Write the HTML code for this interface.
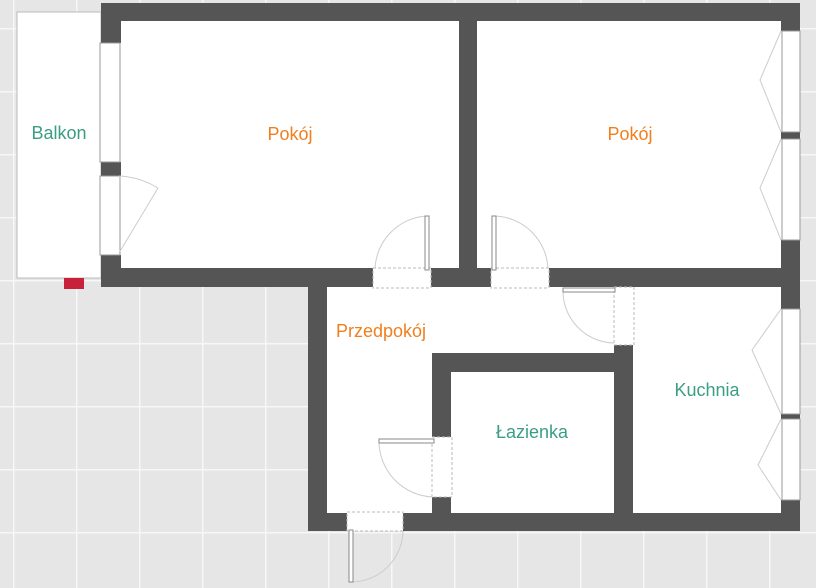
<!DOCTYPE html>
<html><head><meta charset="utf-8"><style>
html,body{margin:0;padding:0;width:816px;height:588px;overflow:hidden;background:#e6e6e6}
svg{display:block}
text{font-family:"Liberation Sans",sans-serif;font-size:18px;text-anchor:middle}
</style></head><body>
<svg width="816" height="588" viewBox="0 0 816 588">
<defs>
<pattern id="g" x="13" y="28" width="63" height="63" patternUnits="userSpaceOnUse">
<rect width="63" height="63" fill="#e6e6e6"/>
<path d="M0 0H63M0 0V63" stroke="#f7f7f7" stroke-width="3"/>
</pattern>
</defs>
<rect width="816" height="588" fill="url(#g)"/>
<rect x="17" y="12" width="84" height="266" fill="#fff" stroke="#bbb" stroke-width="1"/>
<rect x="64" y="278" width="20" height="11" fill="#c8223a"/>
<rect x="101" y="3" width="699" height="284" fill="#fff"/>
<rect x="308" y="287" width="492" height="244" fill="#fff"/>
<g fill="#555">
<rect x="101" y="3" width="699" height="18"/>
<rect x="101" y="3" width="20" height="40"/>
<rect x="101" y="162" width="20" height="14"/>
<rect x="101" y="255" width="20" height="32"/>
<rect x="459" y="3" width="18" height="284"/>
<rect x="781" y="3" width="19" height="28"/>
<rect x="781" y="132" width="19" height="7"/>
<rect x="781" y="240" width="19" height="69"/>
<rect x="781" y="414" width="19" height="5"/>
<rect x="781" y="500" width="19" height="31"/>
<rect x="101" y="268" width="272" height="19"/>
<rect x="431" y="268" width="60" height="19"/>
<rect x="549" y="268" width="251" height="19"/>
<rect x="308" y="287" width="19" height="244"/>
<rect x="308" y="513" width="39" height="18"/>
<rect x="403" y="513" width="397" height="18"/>
<rect x="432" y="353" width="201" height="19"/>
<rect x="432" y="353" width="19" height="84"/>
<rect x="432" y="497" width="19" height="34"/>
<rect x="614" y="345" width="19" height="186"/>
</g>
<g fill="#fff" stroke="#999" stroke-width="1">
<rect x="100" y="43" width="20" height="119"/>
<rect x="100" y="176" width="20" height="79"/>
<rect x="782" y="31" width="18" height="101"/>
<rect x="782" y="139" width="18" height="101"/>
<rect x="782" y="309" width="18" height="105"/>
<rect x="782" y="419" width="18" height="81"/>
</g>
<g fill="none" stroke="#ccc" stroke-width="1">
<path d="M119 176 A80 80 0 0 1 158 188 L119 253"/>
<path d="M781 31 L760 80 L781 132 M781 139 L760 188 L781 240"/>
<path d="M781 309 L752 350 L781 414 M781 419 L758 465 L781 500"/>
<path d="M427 216 A55 55 0 0 0 375 270"/>
<path d="M494 216 A55 55 0 0 1 548 270"/>
<path d="M563 291 A52 52 0 0 0 615 343"/>
<path d="M379 441 A56 56 0 0 0 433 497"/>
<path d="M351 582 A52 52 0 0 0 403 531"/>
</g>
<g fill="#fff" stroke="#bbb" stroke-width="1" stroke-dasharray="3 2">
<rect x="373" y="268" width="58" height="20"/>
<rect x="491" y="268" width="58" height="20"/>
<rect x="614" y="287" width="20" height="58"/>
<rect x="432" y="437" width="20" height="60"/>
<rect x="347" y="512" width="56" height="19"/>
</g>
<g fill="#fff" stroke="#888" stroke-width="1">
<rect x="425" y="216" width="4" height="54"/>
<rect x="492" y="216" width="4" height="54"/>
<rect x="563" y="288" width="52" height="4"/>
<rect x="379" y="439" width="55" height="4"/>
<rect x="349" y="530" width="4" height="52"/>
</g>
<g fill="#3a9e84">
<text x="59" y="139">Balkon</text>
<text x="532" y="438">Łazienka</text>
<text x="707" y="396">Kuchnia</text>
</g>
<g fill="#f07f1e">
<text x="290" y="140">Pokój</text>
<text x="630" y="140">Pokój</text>
<text x="381" y="337">Przedpokój</text>
</g>
</svg>
</body></html>
